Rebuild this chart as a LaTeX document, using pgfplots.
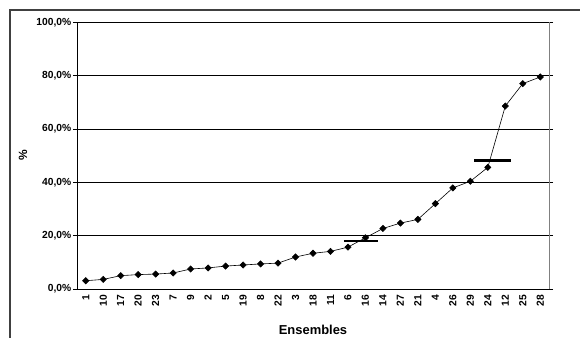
\documentclass[border=0pt]{standalone}
\usepackage{fontspec}
\setmainfont{Liberation Sans}
\usepackage{pgfplots}
\pgfplotsset{compat=1.18}
\begin{document}
\begin{tikzpicture}
\useasboundingbox (0,0) rectangle (580bp,338bp);
% outer chart frame (left and top edges visible)
\draw[line width=1.2bp,black!75] (10bp,0) -- (10bp,328bp) -- (580bp,328bp);
\begin{axis}[
    at={(77bp,49bp)}, anchor=south west,
    scale only axis,
    width=472bp, height=266.7bp,
    xmin=-0.5, xmax=26.5,
    ymin=0, ymax=100,
    xtick={0,...,26},
    xticklabels={1,10,17,20,23,7,9,2,5,19,8,22,3,18,11,6,16,14,27,21,4,26,29,24,12,25,28},
    minor xtick={-0.5,0.5,...,26.5},
    xtick style={draw=none},
    ytick={0,20,40,60,80,100},
    yticklabels={{0,0\%},{20,0\%},{40,0\%},{60,0\%},{80,0\%},{100,0\%}},
    tick align=outside,
    major tick length=4bp, minor tick length=4bp,
    tick style={black, line width=0.6bp},
    ymajorgrids,
    grid style={black, line width=0.6bp},
    axis line style={black, line width=0.7bp},
    ticklabel style={font=\fontsize{10.3}{11}\selectfont\bfseries},
    xticklabel style={rotate=90, anchor=east, inner sep=1.5bp},
    yticklabel style={inner sep=1.5bp},
    xlabel={Ensembles},
    ylabel={\%},
    every axis x label/.style={at={(axis description cs:0.5,0)}, yshift=-41bp, anchor=center,
        font=\fontsize{13}{15}\selectfont\bfseries},
    every axis y label/.style={at={(axis description cs:0,0.5)}, xshift=-54bp, rotate=90, anchor=center,
        font=\fontsize{12}{14}\selectfont\bfseries},
    clip=false,
]
\addplot[black, line width=0.6bp, mark=square*, mark size=2.2bp, mark options={fill=black, rotate=45}]
coordinates {
(0,3.1) (1,3.6) (2,5.0) (3,5.4) (4,5.6) (5,6.0) (6,7.5) (7,7.9) (8,8.6)
(9,9.0) (10,9.4) (11,9.7) (12,12.0) (13,13.4) (14,14.1) (15,15.7) (16,19.2)
(17,22.7) (18,24.7) (19,26.1) (20,32.0) (21,37.9) (22,40.4) (23,45.6)
(24,68.6) (25,77.0) (26,79.5)
};
\addplot[black, line width=2.2bp] coordinates {(14.77,18.1) (16.74,18.1)};
\addplot[black, line width=2.2bp] coordinates {(22.21,48.2) (24.31,48.2)};
\draw[gray, line width=1bp] (rel axis cs:1,0) -- (rel axis cs:1,1);
\end{axis}
\end{tikzpicture}
\end{document}
